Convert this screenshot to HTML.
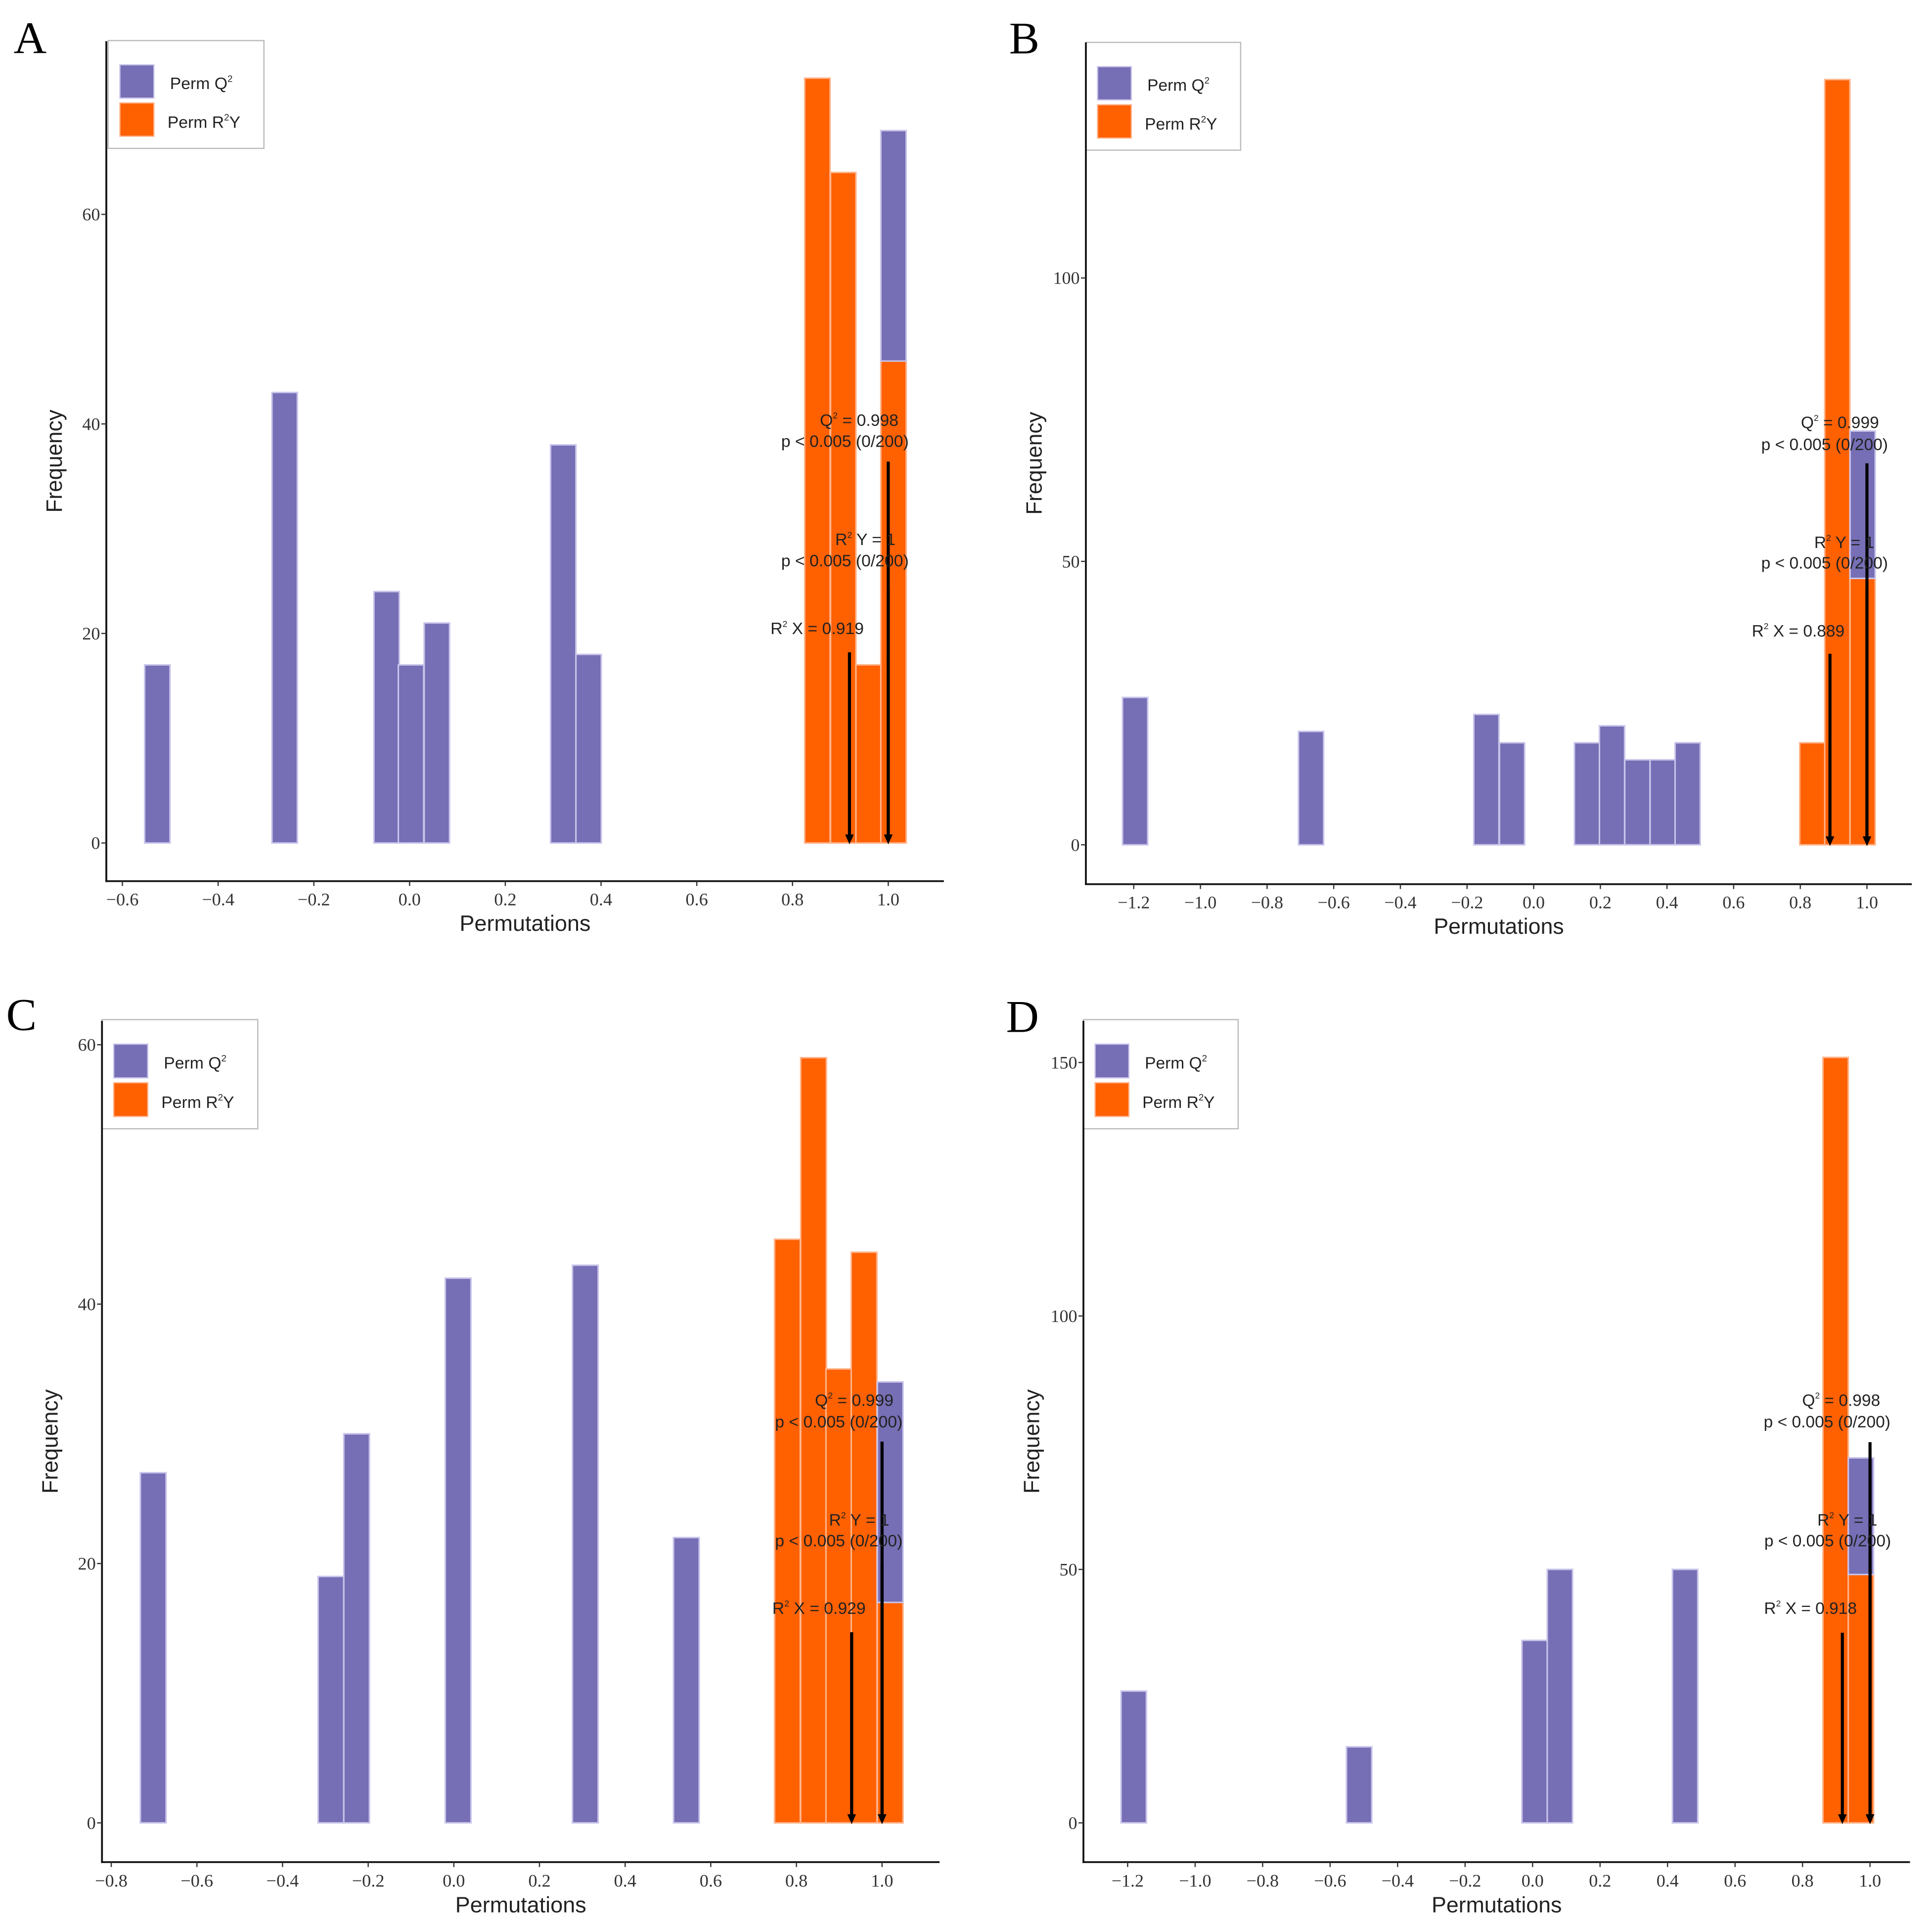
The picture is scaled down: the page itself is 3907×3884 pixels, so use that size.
<!DOCTYPE html>
<html><head><meta charset="utf-8"><style>
html,body{margin:0;padding:0;background:#fff;}
svg{display:block;}
.tk{font-family:"Liberation Serif",serif;fill:#333;}
.ss{font-family:"Liberation Sans",sans-serif;fill:#222;}
</style></head><body>
<svg id="fig" width="3907" height="3884" viewBox="0 0 3907 3884" xmlns="http://www.w3.org/2000/svg"></svg>
<script>
// ---- data (per panel) ----
const aBins=[-0.527,-0.261,-0.048,0.003,0.057,0.321,0.374,0.852,0.906,0.959,1.011];
const aQ2  =[17,43,24,17,21,38,18,0,0,0,22];
const aR2Y =[0,0,0,0,0,0,0,73,64,17,46];
const aXTicks=[-0.6,-0.4,-0.2,0.0,0.2,0.4,0.6,0.8,1.0];
const aYTicks=[0,20,40,60];
const aStats=[0.919,0.998,1];

const bBins=[-1.196,-0.668,-0.142,-0.065,0.160,0.235,0.311,0.387,0.462,0.836,0.911,0.987];
const bQ2  =[26,20,23,18,18,21,15,15,18,0,0,26];
const bR2Y =[0,0,0,0,0,0,0,0,0,18,135,47];
const bXTicks=[-1.2,-1.0,-0.8,-0.6,-0.4,-0.2,0.0,0.2,0.4,0.6,0.8,1.0];
const bYTicks=[0,50,100];
const bStats=[0.889,0.999,1];

const cBins=[-0.702,-0.287,-0.227,0.010,0.307,0.543,0.779,0.840,0.899,0.958,1.019];
const cQ2  =[27,19,30,42,43,22,0,0,0,0,17];
const cR2Y =[0,0,0,0,0,0,45,59,35,44,17];
const cXTicks=[-0.8,-0.6,-0.4,-0.2,0.0,0.2,0.4,0.6,0.8,1.0];
const cYTicks=[0,20,40,60];
const cStats=[0.929,0.999,1];

const dBins=[-1.182,-0.514,0.006,0.081,0.452,0.898,0.973];
const dQ2  =[26,15,36,50,50,0,23];
const dR2Y =[0,0,0,0,0,151,49];
const dXTicks=[-1.2,-1.0,-0.8,-0.6,-0.4,-0.2,0.0,0.2,0.4,0.6,0.8,1.0];
const dYTicks=[0,50,100,150];
const dStats=[0.918,0.998,1];

const NS="http://www.w3.org/2000/svg";
const fig=document.getElementById('fig');
function mk(tag,attrs,parent,txt){const e=document.createElementNS(NS,tag);for(const k in attrs)e.setAttribute(k,attrs[k]);if(txt!==undefined)e.textContent=txt;parent.appendChild(e);return e;}
function fmt(v){let s=v.toFixed(1);if(v<0)s='\u2212'+(-v).toFixed(1);return s;}

const panels=[
 {id:'a',letter:'A',ox:0,oy:0,sx:0.8,sy:0.8167,L:172,T:68,B:1455,R:1527,xa:198,xb:1437,va:-0.6,vb:1.0,y0:1392,ypu:17.3,
  bins:aBins,q2:aQ2,r2y:aR2Y,bw:0.053,xt:aXTicks,yt:aYTicks,st:aStats,lx:22,ly:88,leg:[175,67],arr:[18.2,36.4,24.4],
  tq:[1390,693,1367,728],ty:[1400,890,1367,925],tx:[1322,1037]},
 {id:'b',letter:'B',ox:1960,oy:0,sx:0.8053,sy:0.8167,L:190,T:70,B:1460,R:1535,xa:268,xb:1462,va:-1.2,vb:1.0,y0:1395,ypu:9.36,
  bins:bBins,q2:bQ2,r2y:bR2Y,bw:0.0755,xt:bXTicks,yt:bYTicks,st:bStats,lx:65,ly:88,leg:[190,70],arr:[33.7,67.3,45],
  tq:[1418,697,1393,733],ty:[1425,895,1393,929],tx:[1350,1041]},
 {id:'c',letter:'C',ox:0,oy:1940,sx:0.8,sy:0.8066,L:165,T:100,B:1472,R:1520,xa:180,xb:1427,va:-0.8,vb:1.0,y0:1408,ypu:21.15,
  bins:cBins,q2:cQ2,r2y:cR2Y,bw:0.06,xt:cXTicks,yt:cYTicks,st:cStats,lx:10,ly:115,leg:[165,98],arr:[14.7,29.4,20],
  tq:[1382,718,1357,753],ty:[1390,913,1357,947],tx:[1325,1057]},
 {id:'d',letter:'D',ox:1960,oy:1940,sx:0.8053,sy:0.8066,L:186,T:100,B:1472,R:1532,xa:258,xb:1467,va:-1.2,vb:1.0,y0:1408,ypu:8.267,
  bins:dBins,q2:dQ2,r2y:dR2Y,bw:0.075,xt:dXTicks,yt:dYTicks,st:dStats,lx:60,ly:118,leg:[186,98],arr:[37.5,75.1,50],
  tq:[1420,718,1397,753],ty:[1430,913,1398,947],tx:[1370,1057]}
];

panels.forEach(p=>{
 const g=mk('g',{transform:`translate(${p.ox},${p.oy}) scale(${1/p.sx},${1/p.sy})`},fig);
 
 
 const xs=v=>p.xa+(v-p.va)*(p.xb-p.xa)/(p.vb-p.va);
 const ys=c=>p.y0-c*p.ypu;
 const lt=mk('text',{x:p.lx,y:p.ly,'font-family':'Liberation Serif, serif','font-size':74,fill:'#000'},g,p.letter);
 
 
 const bw=p.bw*(p.xb-p.xa)/(p.vb-p.va);
 p.bins.forEach((v,i)=>{
  const cx=xs(v);
  const o=p.r2y[i], q=p.q2[i];
  if(o>0){const r=mk('rect',{x:cx-bw/2,y:ys(o),width:bw,height:o*p.ypu,fill:'#ff6000',stroke:'#ffb38a','stroke-width':2.5},g);
   
   }
  if(q>0){const r=mk('rect',{x:cx-bw/2,y:ys(o+q),width:bw,height:q*p.ypu,fill:'#766fb5',stroke:'#c9c4ea','stroke-width':2.5},g);
   
   }
 });
 const ax=[p.st[0],p.st[1],p.st[2]];
 ax.forEach((v,i)=>{
  const x=i===0?xs(v):xs(1.0);
  const a=mk('g',{},g);
  
  
  mk('line',{x1:x,y1:ys(p.arr[i]),x2:x,y2:ys(0)-10,stroke:'#000','stroke-width':5},a);
  mk('path',{d:`M${x-7} ${ys(0)-14} L${x+7} ${ys(0)-14} L${x} ${ys(0)+2} Z`,fill:'#000'},a);
 });
 function sup(x,y,anchor,pre,post,name){
  const e=mk('text',{x:x,y:y,'text-anchor':anchor,'font-size':27,class:'ss'},g);
  
  
  mk('tspan',{},e,pre);mk('tspan',{dy:-12,'font-size':14},e,'2');mk('tspan',{dy:12},e,post);
  return e;
 }
 sup(p.tq[0],p.tq[1]+10,'middle','Q',' = '+p.st[1],'q2-annotation');
 let t=mk('text',{x:p.tq[2],y:p.tq[3]+10,'text-anchor':'middle','font-size':27,class:'ss'},g,'p < 0.005 (0/200)');
 
 
 sup(p.ty[0],p.ty[1]+10,'middle','R',' Y = '+p.st[2],'r2y-annotation');
 t=mk('text',{x:p.ty[2],y:p.ty[3]+10,'text-anchor':'middle','font-size':27,class:'ss'},g,'p < 0.005 (0/200)');
 
 
 sup(p.tx[0],p.tx[1]+10,'middle','R',' X = '+p.st[0],'r2x-annotation');
 // legend
 const lg=mk('g',{transform:`translate(${p.leg[0]},${p.leg[1]})`},g);
 
 
 mk('rect',{x:0,y:0,width:252,height:178,fill:'#fff',stroke:'#bbb','stroke-width':2},lg);
 mk('rect',{x:19,y:40,width:55,height:55,fill:'#766fb5',stroke:'#c9c4ea','stroke-width':2},lg);
 mk('rect',{x:19,y:103,width:55,height:55,fill:'#ff6000',stroke:'#ffb38a','stroke-width':2},lg);
 let e=mk('text',{x:100,y:80,'font-size':27,class:'ss'},lg);
 
 
 mk('tspan',{},e,'Perm Q');mk('tspan',{dy:-12,'font-size':15},e,'2');
 e=mk('text',{x:96,y:144,'font-size':27,class:'ss'},lg);
 
 
 mk('tspan',{},e,'Perm R');mk('tspan',{dy:-12,'font-size':15},e,'2');mk('tspan',{dy:12},e,'Y');
 // axes (drawn after legend)
 let l=mk('line',{x1:p.L,y1:p.T,x2:p.L,y2:p.B+1.5,stroke:'#111','stroke-width':3},g);
 
 
 l=mk('line',{x1:p.L-1.5,y1:p.B,x2:p.R,y2:p.B,stroke:'#111','stroke-width':3},g);
 
 
 p.yt.forEach(v=>{
  mk('line',{x1:p.L-8,y1:ys(v),x2:p.L,y2:ys(v),stroke:'#333','stroke-width':2},g);
  const e2=mk('text',{x:p.L-10,y:ys(v)+10,'text-anchor':'end','font-size':29,class:'tk'},g,String(v));
  
  
 });
 p.xt.forEach(v=>{
  mk('line',{x1:xs(v),y1:p.B,x2:xs(v),y2:p.B+8,stroke:'#333','stroke-width':2},g);
  const e2=mk('text',{x:xs(v),y:p.B+40,'text-anchor':'middle','font-size':29,class:'tk'},g,fmt(v));
  
  
 });
 t=mk('text',{x:(p.L+p.R)/2,y:p.B+82,'text-anchor':'middle','font-size':36,class:'ss'},g,'Permutations');
 
 
 const my=(p.T+p.B)/2;
 t=mk('text',{x:0,y:0,transform:`translate(${p.L-72},${my}) rotate(-90)`,'text-anchor':'middle','font-size':36,class:'ss'},g,'Frequency');
 
 
});
</script>
</body></html>
